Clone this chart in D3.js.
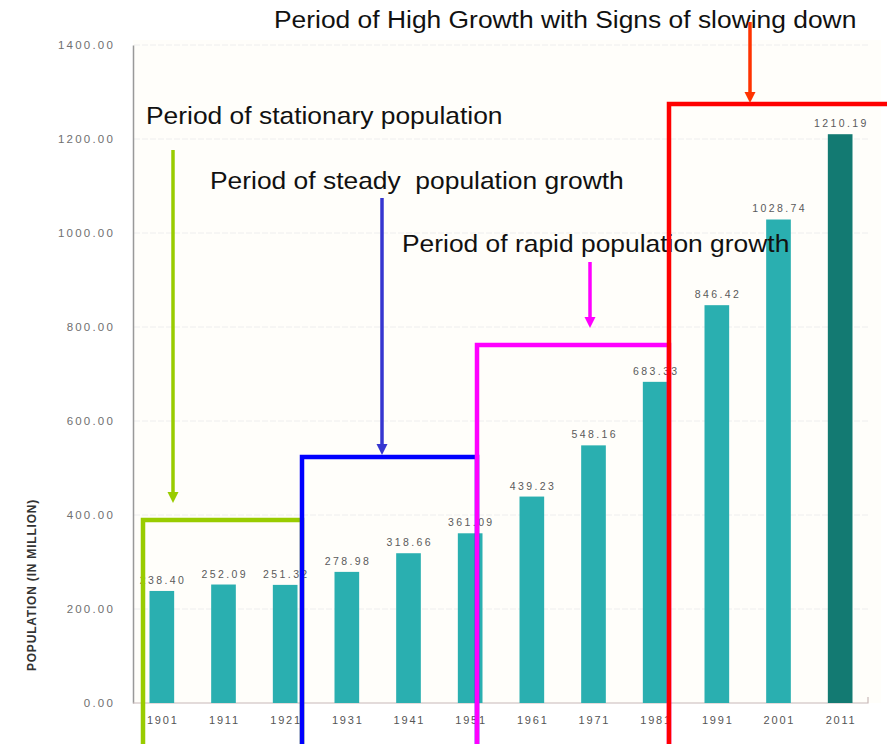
<!DOCTYPE html>
<html>
<head>
<meta charset="utf-8">
<script src="https://cdn.jsdelivr.net/npm/d3@7/dist/d3.min.js"></script>
<style>
  html, body { margin: 0; padding: 0; background: #ffffff; }
  svg { display: block; }
  .phase-label { white-space: pre; }
</style>
</head>
<body>
<script>
// Census years and population of India (in million)
const years = ["1901","1911","1921","1931","1941","1951","1961","1971","1981","1991","2001","2011"];
const population = [238.40, 252.09, 251.32, 278.98, 318.66, 361.09, 439.23, 548.16, 683.33, 846.42, 1028.74, 1210.19];
const yTicks = [0, 200, 400, 600, 800, 1000, 1200, 1400];

// Growth phases: label and colours
const phaseNames = [
  "Period of stationary population",
  "Period of steady  population growth",
  "Period of rapid population growth",
  "Period of High Growth with Signs of slowing down"
];
const phaseColors = ["#99cc00", "#0000ff", "#ff00ff", "#ff0000"];
const arrowColors = ["#99cc00", "#3636d0", "#ff00ff", "#ff3300"];

const W = 887, H = 744;
const FONT = "Liberation Sans, Arial, sans-serif";
const svg = d3.select("body").append("svg").attr("width", W).attr("height", H);

const x = d3.scaleBand().domain(years).range([131, 871]).paddingInner(0.6).paddingOuter(0.3);
const y = d3.scaleLinear().domain([0, 1400]).range([703, 45]);

// plot background
svg.append("rect").attr("x", 133).attr("y", 40).attr("width", 748).attr("height", 663)
  .attr("fill", "#fffefa");

// gridlines
svg.append("g").selectAll("line").data(yTicks.slice(1)).join("line")
  .attr("x1", 134).attr("x2", 868)
  .attr("y1", d => y(d)).attr("y2", d => y(d))
  .attr("stroke", "#eeeeee").attr("stroke-width", 1).attr("stroke-dasharray", "6,2");

// y axis
const yAxis = svg.append("g").attr("transform", "translate(133,0)")
  .call(d3.axisLeft(y).tickValues(yTicks).tickFormat(d3.format(".2f")).tickSize(0).tickPadding(18));
yAxis.select(".domain").attr("stroke", "#999").attr("stroke-width", 1.5);
yAxis.selectAll("text").attr("font-family", FONT)
  .attr("font-size", 11.5).attr("letter-spacing", 2.2).attr("fill", "#707070");

// x axis
const xAxis = svg.append("g").attr("transform", "translate(0,703)")
  .call(d3.axisBottom(x).tickSize(0).tickPadding(13));
xAxis.select(".domain").attr("stroke", "#c8b8b8").attr("stroke-width", 1.2)
  .attr("d", "M133,0H868V-6");
xAxis.selectAll("text").attr("font-family", FONT)
  .attr("font-size", 11).attr("letter-spacing", 1.8).attr("dx", 0.9).attr("fill", "#555");

// y axis title
svg.append("text")
  .attr("transform", "translate(36,585) rotate(-90)")
  .attr("text-anchor", "middle")
  .attr("font-family", FONT)
  .attr("font-size", 12).attr("font-weight", "bold").attr("letter-spacing", 0.8).attr("fill", "#333")
  .text("POPULATION (IN MILLION)");

// bars
const data = years.map((yr, i) => ({ year: yr, value: population[i] }));
svg.append("g").selectAll("rect").data(data).join("rect")
  .attr("x", d => x(d.year))
  .attr("width", x.bandwidth())
  .attr("y", d => y(d.value))
  .attr("height", d => y(0) - y(d.value))
  .attr("fill", (d, i) => i === years.length - 1 ? "#137a72" : "#2aafb0");

// value labels
svg.append("g").selectAll("text").data(data).join("text")
  .attr("x", d => x(d.year) + x.bandwidth() / 2)
  .attr("y", d => y(d.value) - 7)
  .attr("dx", 1.2)
  .attr("text-anchor", "middle")
  .attr("font-family", FONT)
  .attr("font-size", 10.5).attr("letter-spacing", 2.4).attr("fill", "#5a5a5a")
  .text(d => d3.format(".2f")(d.value));

// phase label positions, box outlines and arrows
const labelX = [146, 210, 402, 274];
const labelY = [124, 189, 252, 28];
const boxTop = [520, 457, 345, 104];
const boxLeft = [143, 302, 477, 669];
const boxRight = [302, 477, 669, 892];
const arrowX = [173, 382, 590, 750];
const arrowY0 = [150, 198, 262, 22];
const arrowY1 = [503, 455, 328, 103];

// phase labels
svg.append("g").selectAll("text").data(phaseNames).join("text")
  .attr("class", "phase-label")
  .attr("transform", (d, i) => `translate(${labelX[i]},${labelY[i]}) scale(1.1,1)`)
  .attr("font-family", FONT)
  .attr("font-size", 24).attr("fill", "#111")
  .text(d => d);

// phase boxes
const boxes = svg.append("g");
phaseNames.forEach((name, i) => {
  boxes.append("path")
    .attr("d", `M${boxLeft[i]},${H + 5}V${boxTop[i]}H${boxRight[i]}V${H + 5}`)
    .attr("fill", "none").attr("stroke", phaseColors[i]).attr("stroke-width", 4.5);
});

// arrows
const arrows = svg.append("g");
phaseNames.forEach((name, i) => {
  const ax = arrowX[i], y0 = arrowY0[i], y1 = arrowY1[i];
  arrows.append("line").attr("x1", ax).attr("x2", ax).attr("y1", y0).attr("y2", y1 - 8)
    .attr("stroke", arrowColors[i]).attr("stroke-width", 3.5);
  arrows.append("path")
    .attr("d", `M${ax - 5.5},${y1 - 11}L${ax + 5.5},${y1 - 11}L${ax},${y1}Z`)
    .attr("fill", arrowColors[i]);
});
</script>
</body>
</html>
